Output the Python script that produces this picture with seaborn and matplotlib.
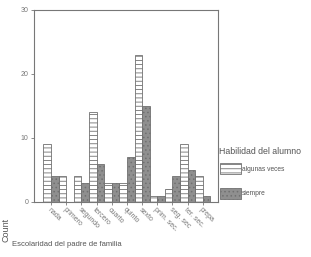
import seaborn as sns
import matplotlib.pyplot as plt
import pandas as pd
from matplotlib.patches import Patch

# Escolaridad del padre vs habilidad del alumno
niveles = ['nada', 'primero', 'segundo', 'tercero', 'cuarto', 'quinto',
           'sexto', 'prim. sec.', 'seg. sec', 'ter. sec.', 'prepa']
algunas = [9, 4, 4, 14, 3, 3, 23, 1, 2, 9, 4]
siempre = [4, 0, 3, 6, 3, 7, 15, 1, 4, 5, 1]
grupos = ['algunas veces', 'siempre']

df = pd.DataFrame({
    'nivel': niveles * 2,
    'count': algunas + siempre,
    'habilidad': [grupos[0]] * len(niveles) + [grupos[1]] * len(niveles),
})

gris = '#707070'
sns.set_style('white')
plt.rcParams['font.family'] = ['Liberation Sans', 'DejaVu Sans']
plt.rcParams['hatch.color'] = '#808080'
plt.rcParams['hatch.linewidth'] = 0.6

fig = plt.figure(figsize=(3.11, 2.57), dpi=100)
ax = fig.add_axes([34 / 311, 1 - 202 / 257, 184 / 311, 192 / 257])

sns.barplot(data=df, x='nivel', y='count', hue='habilidad', order=niveles,
            hue_order=grupos, palette=['white', '#8f8f8f'], width=1.0,
            edgecolor=gris, linewidth=0.6, legend=False, ax=ax)

for bar in ax.containers[0]:
    bar.set_hatch('----')
for bar in ax.containers[1]:
    bar.set_hatch('....')

ax.set_ylim(0, 30)
ax.set_xlim(-1.12, 11.0)
ax.set_yticks([0, 10, 20, 30])
ax.tick_params(axis='y', labelsize=5, colors='#777777', length=2, width=0.6, pad=2, left=True)
ax.tick_params(axis='x', labelsize=5, colors='#777777', length=2, width=0.6, pad=1, bottom=True)
for lab in ax.get_xticklabels():
    lab.set_rotation(-45)
    lab.set_ha('left')
    lab.set_va('top')
    lab.set_rotation_mode('anchor')

for s in ax.spines.values():
    s.set_color('#777777')
    s.set_linewidth(0.8)

ax.set_ylabel('Count', fontsize=6.5, color='#555555')
ax.yaxis.set_label_coords(-0.13, -0.145)
ax.set_xlabel('Escolaridad del padre de familia', fontsize=5.5, color='#555555', ha='left')
ax.xaxis.set_label_coords(-0.12, -0.205)

# legend: title as separate text, entries below
fig.text(219 / 311, 1 - 152 / 257, 'Habilidad del alumno', fontsize=6.3,
         color='#555555', ha='left', va='center')
handles = [Patch(facecolor='white', edgecolor=gris, hatch='----', linewidth=0.6),
           Patch(facecolor='#8f8f8f', edgecolor=gris, hatch='....', linewidth=0.6)]
leg = fig.legend(handles, grupos, loc='upper left',
                 bbox_to_anchor=(220 / 311, 1 - 163 / 257), frameon=False,
                 fontsize=4.8, handlelength=3.2, handleheight=2.2,
                 handletextpad=0.1, labelspacing=2.0, borderaxespad=0, borderpad=0)
for t in leg.get_texts():
    t.set_color('#555555')

fig.savefig('out.png', dpi=100)
